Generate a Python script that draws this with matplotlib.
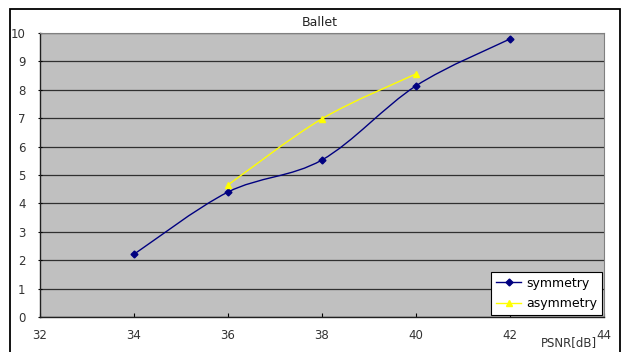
import numpy as np
import matplotlib
matplotlib.use("Agg")
import matplotlib.pyplot as plt
from matplotlib.path import Path
from matplotlib.patches import PathPatch, Rectangle

# PSNR [dB] vs value, two coding schemes
sym_x = [34, 36, 38, 40, 42]
sym_y = [2.21, 4.40, 5.53, 8.14, 9.79]
asym_x = [36, 38, 40]
asym_y = [4.65, 6.98, 8.56]

x_ticks = [32, 34, 36, 38, 40, 42, 44]
y_ticks = list(range(0, 11))


def smooth_path(xs, ys):
    """Cubic Bezier path through the points (Catmull-Rom style control points)."""
    pts = np.column_stack([xs, ys]).astype(float)
    n = len(pts)
    verts = [pts[0]]
    codes = [Path.MOVETO]
    for i in range(n - 1):
        p0 = pts[i - 1] if i > 0 else pts[i]
        p1 = pts[i]
        p2 = pts[i + 1]
        p3 = pts[i + 2] if i + 2 < n else pts[i + 1]
        c1 = p1 + (p2 - p0) / 6.0
        c2 = p2 - (p3 - p1) / 6.0
        verts += [c1, c2, p2]
        codes += [Path.CURVE4] * 3
    return Path(verts, codes)


W, H = 627, 352
fig = plt.figure(figsize=(W / 100, H / 100), dpi=100)
ax = fig.add_axes([40 / W, 1 - 317 / H, (604 - 40) / W, (317 - 33) / H])
ax.set_facecolor("#C0C0C0")

# chart frame around the whole figure
fig.patches.append(Rectangle((10 / W, -0.1), 610 / W, 1.1 - 9 / H,
                             transform=fig.transFigure, fill=False,
                             edgecolor="black", linewidth=1.3))

ax.set_xlim(32, 44)
ax.set_ylim(0, 10)
ax.set_xticks(x_ticks)
ax.set_yticks(y_ticks)
ax.grid(axis="y", color="#303030", linewidth=0.9)
ax.set_axisbelow(True)

for side in ["top", "right"]:
    ax.spines[side].set_color("#808080")
for side in ["left", "bottom"]:
    ax.spines[side].set_color("#202020")
    ax.spines[side].set_linewidth(1.0)

ax.tick_params(axis="x", direction="in", length=3, pad=8.5,
               labelsize=8.5, labelcolor="#333333")
ax.tick_params(axis="y", direction="inout", length=3, pad=9,
               labelsize=8.5, labelcolor="#333333")

# smoothed curves
ax.add_patch(PathPatch(smooth_path(sym_x, sym_y), fill=False,
                       edgecolor="#000080", linewidth=1.0))
ax.add_patch(PathPatch(smooth_path(asym_x, asym_y), fill=False,
                       edgecolor="#FFFF00", linewidth=1.0))

ax.plot(sym_x, sym_y, linestyle="none", marker="D", markersize=3.5,
        color="#000080")
ax.plot(asym_x, asym_y, linestyle="none", marker="^", markersize=5,
        color="#FFFF00")

# legend handles
h1, = ax.plot([], [], color="#000080", marker="D", markersize=3.5,
              linewidth=1.0, label="symmetry")
h2, = ax.plot([], [], color="#FFFF00", marker="^", markersize=5,
              linewidth=1.0, label="asymmetry")
leg = ax.legend(handles=[h1, h2], loc="lower right", fontsize=9,
                fancybox=False, framealpha=1, edgecolor="black",
                borderaxespad=0.15, handlelength=2.0, labelspacing=0.6,
                handletextpad=0.4, borderpad=0.4)
leg.get_frame().set_linewidth(0.8)

fig.text(320 / W, 1 - 22 / H, "Ballet", ha="center", va="center",
         fontsize=9, color="#222222")
fig.text(597 / W, 1 - 343 / H, "PSNR[dB]", ha="right", va="center",
         fontsize=8.5, color="#333333")

fig.savefig("out.png", dpi=100)
